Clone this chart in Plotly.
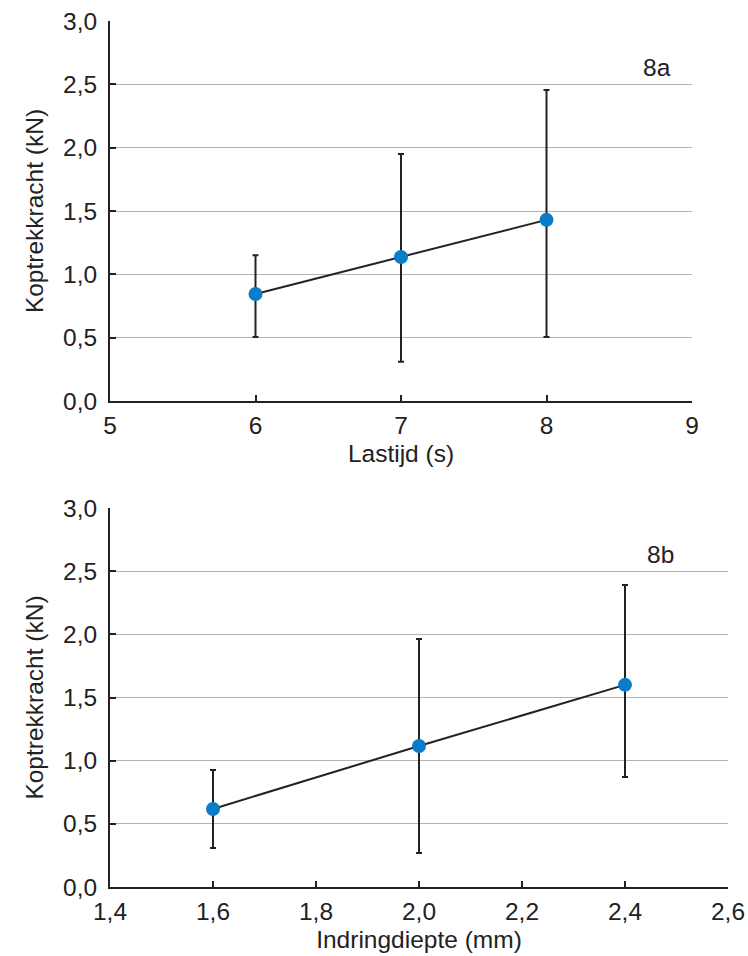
import plotly.graph_objects as go

# Data: figure 8a
x_a = [6, 7, 8]
y_a = [0.845, 1.137, 1.43]
err_up_a = [1.15, 1.95, 2.455]
err_lo_a = [0.505, 0.31, 0.505]

# Data: figure 8b
x_b = [1.6, 2.0, 2.4]
y_b = [0.618, 1.116, 1.60]
err_up_b = [0.926, 1.964, 2.39]
err_lo_b = [0.309, 0.269, 0.871]

y_ticks = [0, 0.5, 1.0, 1.5, 2.0, 2.5, 3.0]
y_ticktext = ["0,0", "0,5", "1,0", "1,5", "2,0", "2,5", "3,0"]
xa_ticks = [5, 6, 7, 8, 9]
xa_ticktext = ["5", "6", "7", "8", "9"]
xb_ticks = [1.4, 1.6, 1.8, 2.0, 2.2, 2.4, 2.6]
xb_ticktext = ["1,4", "1,6", "1,8", "2,0", "2,2", "2,4", "2,6"]

FONT = "Liberation Sans, Arial, Helvetica, sans-serif"
BLUE = "#0a7cc8"
DARK = "#222222"
GRID = "#b4b4b4"
FS = 24.5

fig = go.Figure()

def add_series(xs, ys, up, lo, xaxis, yaxis):
    fig.add_trace(go.Scatter(
        x=xs, y=ys, mode="lines+markers",
        line=dict(color=DARK, width=2),
        marker=dict(color=BLUE, size=14),
        error_y=dict(type="data", symmetric=False,
                     array=[u - y for u, y in zip(up, ys)],
                     arrayminus=[y - l for l, y in zip(lo, ys)],
                     color=DARK, thickness=2, width=3),
        xaxis=xaxis, yaxis=yaxis, showlegend=False,
    ))

add_series(x_a, y_a, err_up_a, err_lo_a, "x", "y")
add_series(x_b, y_b, err_up_b, err_lo_b, "x2", "y2")

common_y = dict(range=[0, 3.0], tickvals=y_ticks, ticktext=y_ticktext,
                showline=True, linecolor=DARK, linewidth=2,
                ticks="inside", ticklen=6, tickcolor=DARK, tickwidth=1.5,
                showgrid=True, gridcolor=GRID, gridwidth=1.2, zeroline=False,
                automargin=False, ticklabelstandoff=6,
                tickfont=dict(family=FONT, size=FS, color=DARK),
                title=dict(text="Koptrekkracht (kN)", font=dict(family=FONT, size=FS, color=DARK), standoff=12))
common_x = dict(showline=True, linecolor=DARK, linewidth=2,
                ticks="inside", ticklen=6, tickcolor=DARK, tickwidth=1.5,
                showgrid=False, zeroline=False, automargin=False,
                ticklabelstandoff=2,
                tickfont=dict(family=FONT, size=FS, color=DARK))

fig.update_layout(
    width=748, height=956,
    margin=dict(l=0, r=0, t=0, b=0),
    paper_bgcolor="white", plot_bgcolor="white",
    xaxis=dict(domain=[110/748, 692/748], range=[5, 9], tickvals=xa_ticks, ticktext=xa_ticktext,
               anchor="y",
               title=dict(text="Lastijd (s)", font=dict(family=FONT, size=FS, color=DARK), standoff=6),
               **common_x),
    yaxis=dict(domain=[1 - 401/956, 1 - 21/956], anchor="x", **common_y),
    xaxis2=dict(domain=[110/748, 728/748], range=[1.4, 2.6], tickvals=xb_ticks, ticktext=xb_ticktext,
                anchor="y2",
                title=dict(text="Indringdiepte (mm)", font=dict(family=FONT, size=FS, color=DARK), standoff=6),
                **common_x),
    yaxis2=dict(domain=[1 - 887/956, 1 - 508/956], anchor="x2", **common_y),
    annotations=[
        dict(text="8a", x=8.76, y=2.63, xref="x", yref="y", showarrow=False,
             font=dict(family=FONT, size=FS, color=DARK)),
        dict(text="8b", x=2.468, y=2.63, xref="x2", yref="y2", showarrow=False,
             font=dict(family=FONT, size=FS, color=DARK)),
    ],
)

fig.write_html("out.html")
